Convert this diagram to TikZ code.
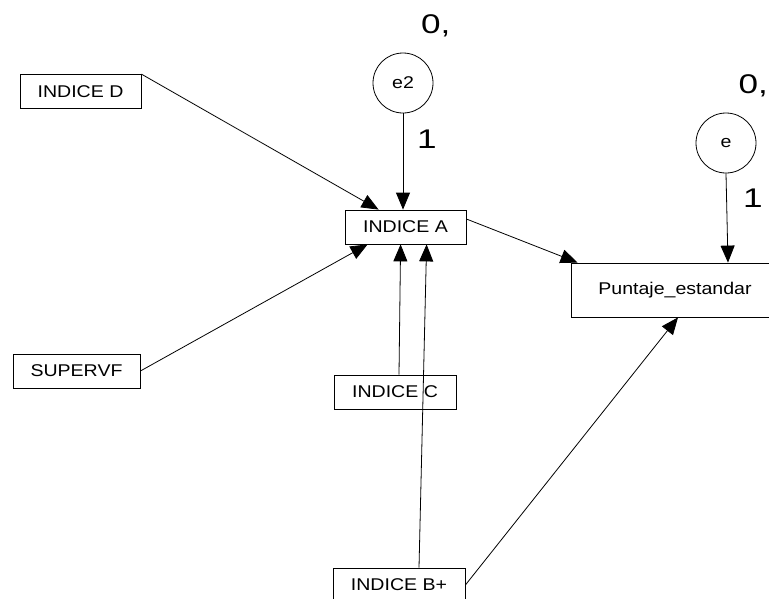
\documentclass[tikz,border=0pt]{standalone}
\usepackage{fontspec}
\setmainfont{Liberation Sans}
\newfontfamily\boxfont[FakeStretch=1.15]{Liberation Sans}
\newfontfamily\lblfont[FakeStretch=1.3]{Liberation Sans}
\usetikzlibrary{arrows.meta,calc}
\begin{document}
\begin{tikzpicture}[x=1pt,y=-1pt,
  box/.style={draw,line width=0.8pt,inner sep=0pt,font=\boxfont\fontsize{17}{20}\selectfont},
  err/.style={draw,circle,line width=0.8pt,inner sep=0pt,minimum size=60pt,font=\boxfont\fontsize{17}{20}\selectfont},
  conn/.style={line width=0.8pt,-{Triangle[length=17pt,width=14pt]}},
  lbl/.style={font=\lblfont\fontsize{27}{32}\selectfont,inner sep=0pt}]
\useasboundingbox (0,0) rectangle (769,598);
\clip (0,0) rectangle (769,598);
\fill[white] (0,0) rectangle (769,598);
\node[box,minimum width=121pt,minimum height=34pt] (D) at (80.5,91.5) {INDICE D};
\node[box,minimum width=127pt,minimum height=34pt] (S) at (76.5,371) {SUPERVF};
\node[box,minimum width=121pt,minimum height=34pt] (A) at (405.5,227) {INDICE A};
\node[box,minimum width=122pt,minimum height=34pt] (C) at (395,392) {INDICE C};
\node[box,minimum width=132pt,minimum height=34pt] (B) at (399,585) {INDICE B+};
\node[box,minimum width=208pt,minimum height=54pt] (P) at (675,290) {Puntaje\_estandar};
\node[err] (e2) at (403,83) {e2};
\node[err] (e) at (726,143) {e};
\node[lbl,anchor=base west] (l1) at (421,33) {0,};
\node[lbl,anchor=base] (l2) at (427,148) {1};
\node[lbl,anchor=base east] (l3) at (768,93) {0,};
\node[lbl,anchor=base] (l4) at (753,207) {1};
\draw[conn] (D.north east) -- ($(A.north west)+(34,0)$);
\draw[conn] (S.east) -- ($(A.south west)+(23,0)$);
\draw[conn] (e2.south) -- (e2.south |- A.north);
\draw[conn] ($(C.north)+(4,0)$) -- ($(A.south west)+(56,0)$);
\draw[conn] ($(B.north)+(20,0)$) -- ($(A.south west)+(82,0)$);
\draw[conn] ($(A.east)+(0,-8)$) -- ($(P.north west)+(7,0)$);
\draw[conn] (B.east) -- ($(P.south)+(3,0)$);
\draw[conn] (e.south) -- ($(P.north)+(53,0)$);
\end{tikzpicture}
\end{document}
